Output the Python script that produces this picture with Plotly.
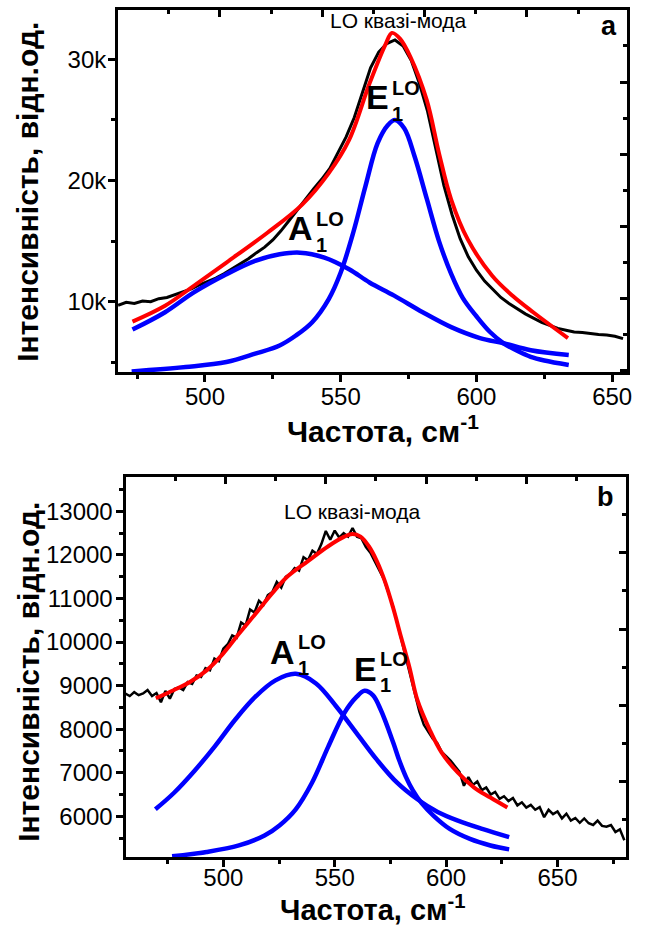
import plotly.graph_objects as go

W, H = 647, 927
FONT = "Liberation Sans, Arial, sans-serif"

# ---------------- Panel a data ----------------
a_exp_start, a_exp_step = 468, 3
a_exp_y = [9700, 9950, 9850, 10050, 10000, 10250, 10350, 10600, 10850, 11050,
           11400, 11650, 11950, 12300, 12700, 13100, 13550, 14050, 14500, 15100,
           15850, 16700, 17600, 18450, 19300, 20100, 21000, 22300, 23600, 25200,
           27300, 29300, 30600, 31300, 31600, 31100, 29900, 28000, 25700, 22600,
           19600, 17200, 15200, 13700, 12600, 11700, 11000, 10350, 9850, 9400,
           9000, 8650, 8300, 8050, 7800, 7650, 7500, 7450, 7350, 7300,
           7250, 7150, 6950]
a_exp_x = [a_exp_start + a_exp_step * i for i in range(len(a_exp_y))]

a_fit_x = [473.3, 485.3, 495.9, 507.9, 523.0, 535.8, 545.6, 553.1, 560.6, 566.6,
           568.9, 571.9, 575.7, 581.7, 586.2, 590.7, 596.8, 605.8, 613.3, 620.9, 633.7]
a_fit_y = [8360, 9670, 11310, 13230, 15690, 18010, 20610, 23350, 28000, 31280,
           32180, 31690, 30190, 26630, 22260, 18430, 15140, 12140, 10490, 9130, 7000]

a_A1_x = [473.3, 485.3, 495.9, 507.9, 518.5, 527.5, 535.0, 544.0, 553.1, 560.6,
          569.7, 580.2, 590.7, 601.3, 610.0, 620.0, 634.0]
a_A1_y = [7700, 9130, 10770, 12270, 13370, 13910, 14050, 13640, 12680, 11590,
          10500, 9130, 7900, 7000, 6570, 6000, 5600]

a_E1_x = [473.0, 492.9, 507.9, 518.5, 527.5, 533.5, 539.5, 545.6, 550.0, 554.6,
          559.1, 563.6, 567.4, 570.0, 573.4, 577.2, 581.7, 586.2, 590.7, 595.0,
          600.0, 605.0, 610.0, 615.0, 620.0, 625.0, 634.0]
a_E1_y = [4250, 4610, 5020, 5710, 6390, 7210, 8310, 10220, 12410, 15690,
          19520, 23080, 24580, 24990, 24310, 22000, 18500, 15000, 12300, 10300,
          8800, 7500, 6570, 5950, 5450, 5150, 4780]

# ---------------- Panel b data ----------------
b_exp_start, b_exp_step = 456, 2
b_exp_y = [8820, 8760, 8850, 8780, 8820, 8900, 8760, 8830, 8620, 8880,
           8700, 8920, 8960, 8900, 9080, 9040, 9230, 9200, 9400, 9350,
           9620, 9560, 9850, 9950, 10150, 10100, 10450, 10380, 10750, 10680,
           10950, 10850, 11080, 11150, 11380, 11250, 11500, 11560, 11700, 11640,
           11950, 11880, 12100, 12020, 12250, 12550, 12350, 12560, 12400, 12500,
           12420, 12620, 12420, 12380, 12180, 12050, 11850, 11650, 11450, 11150,
           10850, 10450, 10050, 9650, 9200, 8800, 8400, 8100, 7950, 7780,
           7680, 7480, 7380, 7280, 7150, 7020, 6700, 6900, 6720, 6800,
           6600, 6660, 6500, 6560, 6400, 6460, 6350, 6420, 6250, 6320,
           6200, 6260, 6150, 6210, 5980, 6150, 6050, 6110, 5950, 6060,
           5900, 5960, 5850, 5950, 5840, 5800, 5900, 5780, 5760, 5800,
           5640, 5700, 5450]
b_exp_x = [b_exp_start + b_exp_step * i for i in range(len(b_exp_y))]

b_fit_x = [469.7, 477.9, 485.2, 492.5, 499.8, 507.0, 514.3, 521.6, 528.9, 538.0,
           547.1, 554.3, 558.0, 561.6, 565.3, 568.9, 572.5, 576.2, 579.8, 583.5,
           587.1, 592.6, 598.0, 605.3, 612.6, 619.9, 627.5]
b_fit_y = [8710, 8900, 9090, 9350, 9730, 10190, 10640, 11100, 11510, 11860,
           12200, 12420, 12480, 12420, 12200, 11860, 11400, 10790, 10110, 9430,
           8670, 7990, 7460, 7000, 6660, 6430, 6200]

b_A1_x = [469.5, 477.9, 487.0, 496.1, 505.2, 514.3, 523.4, 532.5, 541.6, 550.7,
          559.8, 568.9, 578.0, 587.1, 596.2, 605.3, 616.2, 628.3]
b_A1_y = [6160, 6540, 7040, 7600, 8210, 8740, 9120, 9270, 9050, 8520,
          7910, 7300, 6770, 6390, 6100, 5900, 5710, 5520]

b_E1_x = [477.0, 492.5, 507.0, 518.5, 525.2, 532.5, 539.8, 547.1, 554.3, 559.8,
          563.4, 567.1, 570.7, 576.2, 579.0, 582.0, 585.0, 589.0, 594.4, 601.6,
          610.7, 619.9, 628.3]
b_E1_y = [5080, 5180, 5330, 5560, 5790, 6160, 6770, 7600, 8370, 8740,
          8880, 8780, 8440, 7700, 7280, 6900, 6600, 6300, 6010, 5710,
          5480, 5330, 5240]

# ---------------- Axis settings ----------------
a_xrange = [468, 655.5]
a_yrange = [4200, 34070]
b_xrange = [456.1, 680.8]
b_yrange = [5065, 13790]


def fx(p):
    return p / W


def fy(p):
    return 1 - p / H


fig = go.Figure()

BLUE = "#0000ff"
RED = "#ff0000"

# panel a
fig.add_trace(go.Scatter(x=a_exp_x, y=a_exp_y, mode="lines",
                         line=dict(color="black", width=3), xaxis="x", yaxis="y"))
fig.add_trace(go.Scatter(x=a_A1_x, y=a_A1_y, mode="lines",
                         line=dict(color=BLUE, width=4.5, shape="spline"), xaxis="x", yaxis="y"))
fig.add_trace(go.Scatter(x=a_E1_x, y=a_E1_y, mode="lines",
                         line=dict(color=BLUE, width=4.5, shape="spline"), xaxis="x", yaxis="y"))
fig.add_trace(go.Scatter(x=a_fit_x, y=a_fit_y, mode="lines",
                         line=dict(color=RED, width=4, shape="spline"), xaxis="x", yaxis="y"))
# panel b
fig.add_trace(go.Scatter(x=b_exp_x, y=b_exp_y, mode="lines",
                         line=dict(color="black", width=2.5), xaxis="x2", yaxis="y2"))
fig.add_trace(go.Scatter(x=b_A1_x, y=b_A1_y, mode="lines",
                         line=dict(color=BLUE, width=4.5, shape="spline"), xaxis="x2", yaxis="y2"))
fig.add_trace(go.Scatter(x=b_E1_x, y=b_E1_y, mode="lines",
                         line=dict(color=BLUE, width=4.5, shape="spline"), xaxis="x2", yaxis="y2"))
fig.add_trace(go.Scatter(x=b_fit_x, y=b_fit_y, mode="lines",
                         line=dict(color=RED, width=4, shape="spline"), xaxis="x2", yaxis="y2"))
# dummy traces for mirrored tick axes
for xa, ya in [("x3", "y"), ("x", "y3"), ("x4", "y2"), ("x2", "y4")]:
    fig.add_trace(go.Scatter(x=[], y=[], xaxis=xa, yaxis=ya, hoverinfo="skip"))

tickfont = dict(family=FONT, size=24, color="black")
base = dict(showline=True, linewidth=3, linecolor="black", mirror=True, showgrid=False,
            zeroline=False, ticks="outside", ticklen=7, tickwidth=3, tickcolor="black",
            tickfont=tickfont)
over = dict(showline=False, showgrid=False, zeroline=False, ticks="inside", ticklen=7,
            tickwidth=3, tickcolor="black", showticklabels=False)


def minor(t0, dt, where="outside"):
    return dict(tick0=t0, dtick=dt, ticklen=4, tickwidth=3, tickcolor="black", ticks=where)


fig.update_layout(
    width=W, height=H, margin=dict(l=0, r=0, t=0, b=0),
    paper_bgcolor="white", plot_bgcolor="white", showlegend=False,
    xaxis=dict(base, domain=[fx(119), fx(632)], anchor="y", range=a_xrange,
               tick0=500, dtick=50, minor=minor(475, 25), ticklabelstandoff=-6),
    yaxis=dict(base, domain=[fy(372), fy(10)], anchor="x", range=a_yrange,
               tick0=0, dtick=10000, tickformat="~s", minor=minor(0, 5000),
               ticklabelstandoff=-3),
    xaxis2=dict(base, domain=[fx(126.5), fx(631)], anchor="y2", range=b_xrange,
                tick0=500, dtick=50, minor=minor(475, 25), ticklabelstandoff=-10),
    yaxis2=dict(base, domain=[fy(857), fy(477)], anchor="x2", range=b_yrange,
                tick0=0, dtick=1000, tickformat="d", minor=minor(0, 500),
                ticklabelstandoff=-2),
    xaxis3=dict(over, overlaying="x", anchor="y", side="top", range=a_xrange,
                tick0=505.5, dtick=37.7, minor=minor(486.65, 18.85, "inside")),
    yaxis3=dict(over, overlaying="y", anchor="x", side="right", range=a_yrange,
                tick0=28127, dtick=5960, minor=minor(25147, 2980, "inside")),
    xaxis4=dict(over, overlaying="x2", anchor="y2", side="top", range=b_xrange,
                tick0=501, dtick=45, minor=minor(478.5, 22.5, "inside")),
    yaxis4=dict(over, overlaying="y2", anchor="x2", side="right", range=b_yrange,
                tick0=12050, dtick=1750, minor=minor(11175, 875, "inside")),
)

title_font = dict(family=FONT, size=30, color="black", weight="bold")
title_font_b = dict(family=FONT, size=29, color="black", weight="bold")
ytitle_font = dict(family=FONT, size=30, color="black", weight="bold")
lbl_font = dict(family=FONT, size=34, color="black", weight="bold")
sub_font = dict(family=FONT, size=20, color="black", weight="bold")
mode_font = dict(family=FONT, size=21, color="black")
panel_font = dict(family=FONT, size=27, color="black", weight="bold")

ann = []


def add(text, x, y, font, xanchor="center", yanchor="middle", angle=0, align="center"):
    ann.append(dict(text=text, x=fx(x), y=fy(y), xref="paper", yref="paper",
                    xanchor=xanchor, yanchor=yanchor, showarrow=False, font=font,
                    textangle=angle, align=align, borderpad=0))


def peak(letter, x_right, y_letter, y_stack):
    add(letter, x_right, y_letter, lbl_font, xanchor="right")
    add("LO<br>1", x_right + 1, y_stack, sub_font, xanchor="left", align="left")


# axis titles
add("Частота, см<sup>-1</sup>", 484, 429, title_font, xanchor="right")
add("Частота, см<sup>-1</sup>", 471, 908, title_font_b, xanchor="right")
add("Інтенсивність, відн.од.", 28, 192, ytitle_font, angle=-90)
add("Інтенсивність, відн.од.", 28, 672, ytitle_font, angle=-90)
# mode labels
add("LO квазі-мода", 402, 21, mode_font)
add("LO квазі-мода", 355, 511, mode_font)
# panel letters
add("a", 613.5, 26, panel_font)
add("b", 610.6, 497, panel_font)
# peak labels
peak("A", 316, 228, 232)
peak("E", 393, 97, 101)
peak("A", 298, 652, 655)
peak("E", 381, 669, 672)

fig.update_layout(annotations=ann)
fig.write_html("out.html")
